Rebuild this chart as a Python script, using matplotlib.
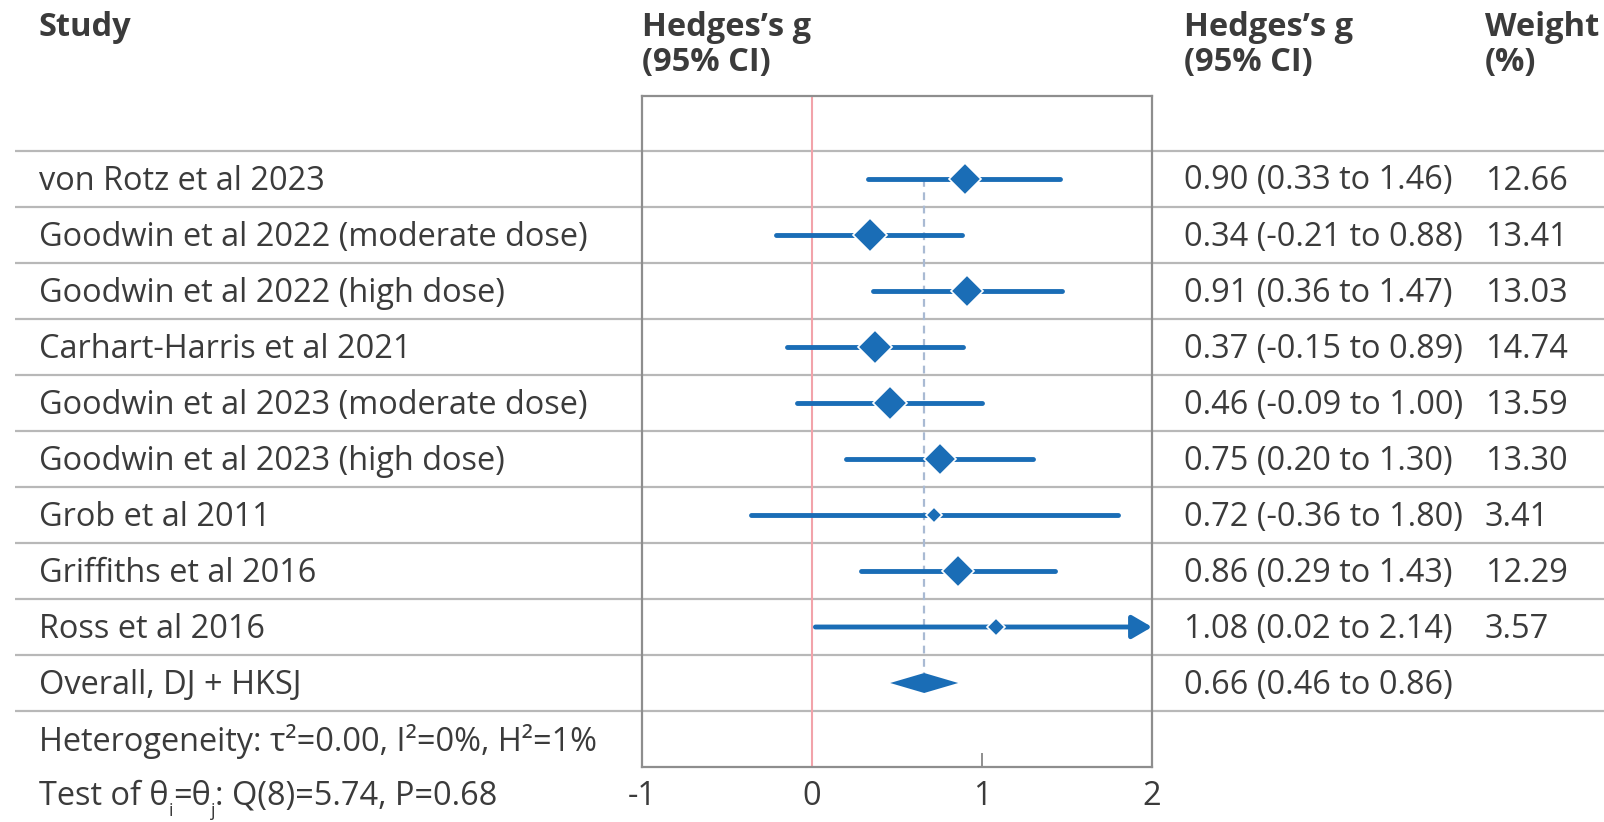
import matplotlib
matplotlib.use("Agg")
import matplotlib.pyplot as plt
from matplotlib.patches import Polygon
import numpy as np

# ---------------- data ----------------
studies = [
    "von Rotz et al 2023",
    "Goodwin et al 2022 (moderate dose)",
    "Goodwin et al 2022 (high dose)",
    "Carhart-Harris et al 2021",
    "Goodwin et al 2023 (moderate dose)",
    "Goodwin et al 2023 (high dose)",
    "Grob et al 2011",
    "Griffiths et al 2016",
    "Ross et al 2016",
]
g_est = [0.90, 0.34, 0.91, 0.37, 0.46, 0.75, 0.72, 0.86, 1.08]
ci_low = [0.33, -0.21, 0.36, -0.15, -0.09, 0.20, -0.36, 0.29, 0.02]
ci_high = [1.46, 0.88, 1.47, 0.89, 1.00, 1.30, 1.80, 1.43, 2.14]
weights = [12.66, 13.41, 13.03, 14.74, 13.59, 13.30, 3.41, 12.29, 3.57]

overall_label = "Overall, DJ + HKSJ"
overall_est = 0.66
overall_low = 0.46
overall_high = 0.86

x_ticks = [-1, 0, 1, 2]
x_tick_labels = ["-1", "0", "1", "2"]

# ---------------- style ----------------
W, H = 1604, 822
TEXT = "#3b3b3b"
BLUE = "#1a6db6"
DASH = "#a9bad3"
RED = "#f2a3aa"
BOX = "#8e8e8e"
SEP = "#b8b8b8"
FONT = ["Open Sans", "DejaVu Sans"]
BOLD = ["Open Sans", "DejaVu Sans"]
FS = 23.4
HFS = 23.5

fig = plt.figure(figsize=(W / 100, H / 100), dpi=100)
fig.patch.set_facecolor("white")
bg = fig.add_axes([0, 0, 1, 1])
bg.set_xlim(0, W)
bg.set_ylim(H, 0)
bg.axis("off")

BOX_L, BOX_R, BOX_T, BOX_B = 642, 1152, 96, 767
ax = fig.add_axes([BOX_L / W, 1 - BOX_B / H, (BOX_R - BOX_L) / W, (BOX_B - BOX_T) / H])
ax.set_xlim(-1, 2)
ax.set_ylim(BOX_B, BOX_T)
ax.patch.set_alpha(0)

ROW0, STEP = 179, 56
n = len(studies)
rows = [ROW0 + STEP * i for i in range(n)]
row_overall = ROW0 + STEP * n
TDY = 2  # text vertical adjustment

# separators
for k in range(n + 2):
    y = ROW0 - STEP / 2 + STEP * k
    bg.plot([15, W], [y, y], color=SEP, lw=1.6, zorder=1, solid_capstyle="butt")

# headers
def header(x, y, s):
    bg.text(x, y, s, family=BOLD, weight="bold", fontsize=HFS, color=TEXT, va="center")

header(38, 28, "Study")
for xh in (BOX_L, 1184):
    header(xh, 28, "Hedges\u2019s g")
    header(xh, 63, "(95% CI)")
header(1485, 28, "Weight")
header(1485, 63, "(%)")

# row texts
def body(x, y, s, **kw):
    return bg.text(x, y + TDY, s, family=FONT, fontsize=FS, color=TEXT, va="center", **kw)

for i, name in enumerate(studies):
    y = rows[i]
    body(39, y, name)
    body(1184, y, f"{g_est[i]:.2f} ({ci_low[i]:.2f} to {ci_high[i]:.2f})")
    body(1485, y, f"{weights[i]:.2f}")
body(39, row_overall, overall_label)
body(1184, row_overall, f"{overall_est:.2f} ({overall_low:.2f} to {overall_high:.2f})")

body(39, 739, "Heterogeneity: \u03c4\u00b2=0.00, I\u00b2=0%, H\u00b2=1%")

# test line with subscripts
r = fig.canvas.get_renderer()
def put(x, y, s, fs=FS):
    t = bg.text(x, y + TDY, s, family=FONT, fontsize=fs, color=TEXT, va="center")
    return x + t.get_window_extent(renderer=r).width

ty = 794
x = put(39, ty, "Test of \u03b8")
x = put(x, ty + 15, "i", fs=13)
x = put(x, ty, "=\u03b8")
x = put(x, ty + 15, "j", fs=13)
put(x, ty, ": Q(8)=5.74, P=0.68")

# ---------------- forest ----------------
ax.axvline(0, color=RED, lw=1.5, zorder=2)
ax.plot([overall_est, overall_est], [rows[0], row_overall - 10], color=DASH, lw=1.6,
        dashes=(3.5, 2.5), zorder=2)

LW = 3.5
for i in range(n):
    y = rows[i]
    hi = min(ci_high[i], 2)
    if ci_high[i] > 2:
        ax.annotate("", xy=(2, y), xytext=(ci_low[i], y),
                    arrowprops=dict(arrowstyle="-|>,head_length=0.6,head_width=0.35",
                                    lw=LW, color=BLUE, shrinkA=0, shrinkB=0,
                                    mutation_scale=20, capstyle="round"),
                    annotation_clip=False, zorder=3)
    else:
        ax.plot([ci_low[i], hi], [y, y], color=BLUE, lw=LW, solid_capstyle="round", zorder=3)
    ms = 4.6 * np.sqrt(weights[i])
    ax.plot(g_est[i], y, marker="D", ms=ms, color=BLUE, mec="white", mew=1.2, zorder=4)

ax.add_patch(Polygon([(overall_low, row_overall), (overall_est, row_overall - 10),
                      (overall_high, row_overall), (overall_est, row_overall + 10)],
                     closed=True, facecolor=BLUE, edgecolor="none", zorder=4))

for s in ax.spines.values():
    s.set_color(BOX)
    s.set_linewidth(1.6)
    s.set_zorder(5)
ax.set_yticks([])
ax.set_xticks(x_ticks)
ax.set_xticklabels([])
ax.tick_params(axis="x", direction="in", length=10, width=1.4, color=BOX)
for v, lab in zip(x_ticks, x_tick_labels):
    ax.text(v, 794 + TDY, lab, family=FONT, fontsize=FS, color=TEXT, ha="center", va="center",
            clip_on=False)

fig.savefig("out.png", dpi=100, facecolor="white")
